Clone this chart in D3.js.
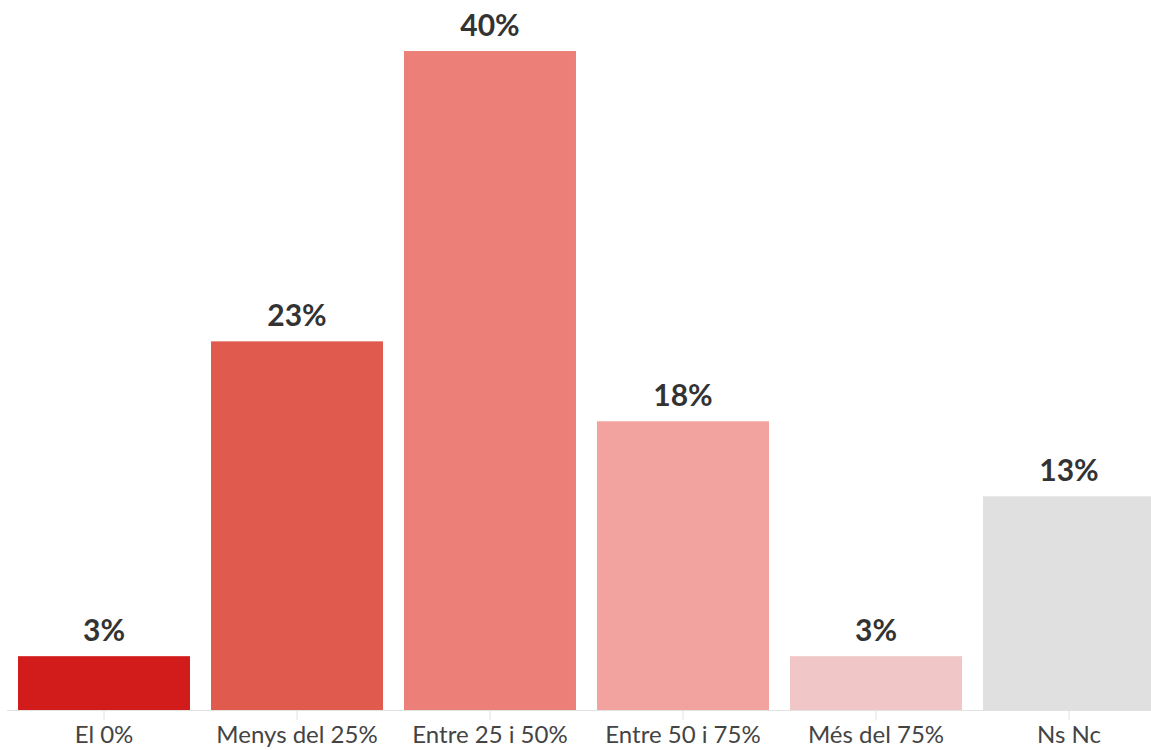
<!DOCTYPE html>
<html>
<head>
<meta charset="utf-8">
<script src="https://cdn.jsdelivr.net/npm/d3@7"></script>
<style>
  html, body { margin: 0; padding: 0; background: #fff; }
  svg { display: block; }
</style>
</head>
<body>
<svg id="chart" width="1151" height="750"></svg>
<script>
const categories = ["El 0%", "Menys del 25%", "Entre 25 i 50%", "Entre 50 i 75%", "Més del 75%", "Ns Nc"];
const values = [3.3, 22.6, 40.4, 17.7, 3.3, 13.1];
const colors = ["#d21c1c", "#e05a4e", "#ec7f78", "#f2a39f", "#f0c6c7", "#e0e0e0"];

const data = categories.map((c, i) => ({ cat: c, value: values[i], color: colors[i] }));

const svg = d3.select("#chart");
const baseline = 710, topY = 51;

const x = d3.scaleBand()
  .domain(categories)
  .range([7.5, 1165.5])
  .paddingInner(0.109)
  .paddingOuter(0.0545);

const y = d3.scaleLinear()
  .domain([0, d3.max(values)])
  .range([baseline, topY]);

// axis
const xAxis = d3.axisBottom(x).tickSize(10).tickSizeOuter(0).tickPadding(6);
const gx = svg.append("g")
  .attr("transform", `translate(0,${baseline})`)
  .call(xAxis);
gx.select(".domain").remove();
gx.append("line")
  .attr("x1", 7).attr("x2", 1151)
  .attr("y1", 0.5).attr("y2", 0.5)
  .attr("stroke", "#e2e2e2").attr("stroke-width", 1);
gx.selectAll(".tick line").attr("stroke", "#e2e2e2");
gx.selectAll(".tick text")
  .attr("fill", "#444")
  .attr("font-family", "Lato, 'Open Sans', sans-serif")
  .attr("font-size", "24px")
  .attr("dy", "0.71em");

// bars
svg.append("g").selectAll("rect")
  .data(data)
  .join("rect")
  .attr("x", d => x(d.cat))
  .attr("width", x.bandwidth())
  .attr("y", d => y(d.value))
  .attr("height", d => baseline - y(d.value))
  .attr("fill", d => d.color);

// value labels
const fmt = d => d3.format(".0f")(d) + "%";
svg.append("g").selectAll("text")
  .data(data)
  .join("text")
  .attr("x", d => x(d.cat) + x.bandwidth() / 2)
  .attr("y", d => y(d.value) - 15)
  .attr("text-anchor", "middle")
  .attr("fill", "#333")
  .attr("font-family", "Lato, 'Open Sans', sans-serif")
  .attr("font-weight", "bold")
  .attr("font-size", "30px")
  .text(d => fmt(d.value));
</script>
</body>
</html>
